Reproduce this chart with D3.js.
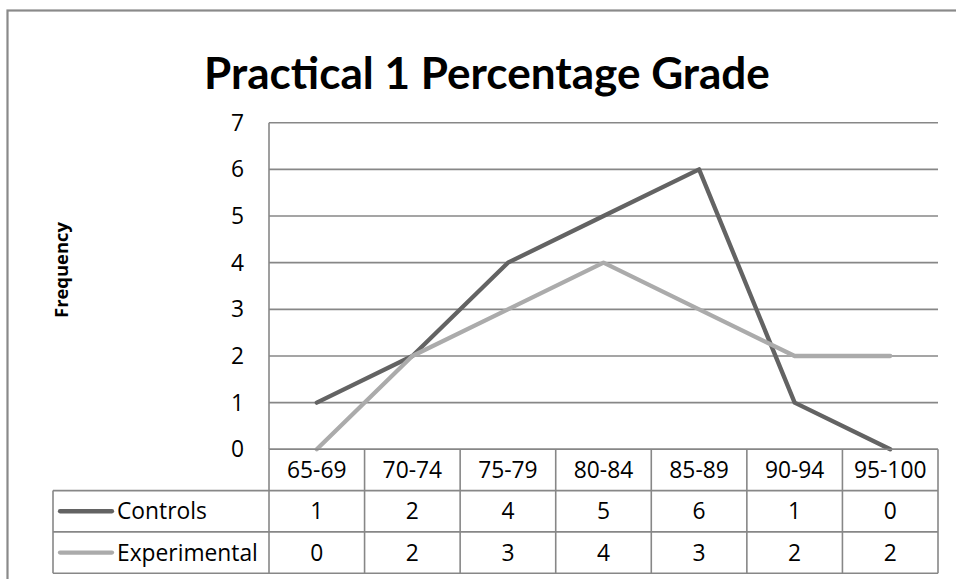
<!DOCTYPE html>
<html>
<head>
<meta charset="utf-8">
<script src="https://cdn.jsdelivr.net/npm/d3@7"></script>
<style>
  body { margin: 0; background: #fff; }
  svg text { font-family: "Open Sans", Lato, sans-serif; fill: #000; }
</style>
</head>
<body>
<svg id="chart"></svg>
<script>
// data
const categories = ['65-69', '70-74', '75-79', '80-84', '85-89', '90-94', '95-100'];
const controls = [1, 2, 4, 5, 6, 1, 0];
const experimental = [0, 2, 3, 4, 3, 2, 2];
const yTicks = [0, 1, 2, 3, 4, 5, 6, 7];

const series = [
    { name: 'Controls', values: controls, color: '#636363' },
    { name: 'Experimental', values: experimental, color: '#ababab' },
];

const width = 956, height = 579;
const plot = { left: 269, right: 938, top: 122.7, bottom: 449.3 };
const rowH = 41.3;
const tableLeft = 53;
const gridColor = '#878787';

const svg = d3.select('#chart').attr('width', width).attr('height', height);

// Outer chart frame (runs off the right and bottom edge)
svg.append('rect')
    .attr('x', 7.5).attr('y', 10.5)
    .attr('width', 1000).attr('height', 700)
    .attr('fill', '#fff')
    .attr('stroke', '#8a8a8a')
    .attr('stroke-width', 2.2);

// Fit text to a target width (fonts differ from the original)
function fitText(sel, targetWidth) {
    const fs = parseFloat(sel.attr('font-size'));
    const w = sel.node().getComputedTextLength();
    const size = w > 0 ? fs * targetWidth / w : fs;
    sel.attr('font-size', size);
    return size;
}

// Title
const title = svg.append('text')
    .attr('x', 487).attr('y', 89)
    .attr('text-anchor', 'middle')
    .style('font-family', 'Lato, sans-serif')
    .attr('font-size', 40)
    .attr('font-weight', 'bold')
    .text('Practical 1 Percentage Grade');
fitText(title, 566);

// work out a common label size from the widest legend entry
const probe = svg.append('text').attr('font-size', 20).text('Experimental');
const fs = Math.min(fitText(probe, 141), 23);
probe.remove();

// Scales
const x = d3.scaleBand().domain(categories).range([plot.left, plot.right]);
const y = d3.scaleLinear().domain([0, 7]).range([plot.bottom, plot.top]);

// Gridlines
svg.append('g')
    .selectAll('line')
    .data(yTicks)
    .join('line')
    .attr('x1', plot.left).attr('x2', plot.right)
    .attr('y1', d => y(d)).attr('y2', d => y(d))
    .attr('stroke', gridColor)
    .attr('stroke-width', 1.6);

// Vertical axis line
svg.append('line')
    .attr('x1', plot.left).attr('x2', plot.left)
    .attr('y1', plot.top).attr('y2', plot.bottom)
    .attr('stroke', gridColor)
    .attr('stroke-width', 1.6);

// Y tick labels
svg.append('g')
    .selectAll('text')
    .data(yTicks)
    .join('text')
    .attr('x', 244)
    .attr('y', d => y(d))
    .attr('dy', '0.35em')
    .attr('text-anchor', 'end')
    .attr('font-size', fs)
    .text(d => d);

// Y axis title
const ytitle = svg.append('text')
    .attr('transform', 'translate(68,270) rotate(-90)')
    .attr('text-anchor', 'middle')
    .attr('font-size', 18)
    .attr('font-weight', 'bold')
    .text('Frequency');
fitText(ytitle, 96);

// Lines
const line = d3.line()
    .x((d, i) => x(categories[i]) + x.bandwidth() / 2)
    .y(d => y(d));

svg.append('g')
    .selectAll('path')
    .data(series)
    .join('path')
    .attr('d', d => line(d.values))
    .attr('fill', 'none')
    .attr('stroke', d => d.color)
    .attr('stroke-width', 4.3)
    .attr('stroke-linejoin', 'round')
    .attr('stroke-linecap', 'round');

// Data table
const table = svg.append('g');
const rowY = i => plot.bottom + rowH * i;

// horizontal lines
table.append('line')
    .attr('x1', plot.left).attr('x2', plot.right)
    .attr('y1', rowY(0)).attr('y2', rowY(0))
    .attr('stroke', gridColor).attr('stroke-width', 1.6);
[1, 2, 3].forEach(i => {
    table.append('line')
        .attr('x1', tableLeft).attr('x2', plot.right)
        .attr('y1', rowY(i)).attr('y2', rowY(i))
        .attr('stroke', gridColor).attr('stroke-width', 1.6);
});

// vertical lines
const colEdges = categories.map(c => x(c)).concat([plot.right]);
table.selectAll('line.col')
    .data(colEdges)
    .join('line')
    .attr('class', 'col')
    .attr('x1', d => d).attr('x2', d => d)
    .attr('y1', rowY(0)).attr('y2', rowY(3))
    .attr('stroke', gridColor).attr('stroke-width', 1.6);
table.append('line')
    .attr('x1', tableLeft).attr('x2', tableLeft)
    .attr('y1', rowY(1)).attr('y2', rowY(3))
    .attr('stroke', gridColor).attr('stroke-width', 1.6);

// header labels
table.selectAll('text.cat')
    .data(categories)
    .join('text')
    .attr('class', 'cat')
    .attr('x', d => x(d) + x.bandwidth() / 2)
    .attr('y', rowY(0) + rowH / 2)
    .attr('dy', '0.35em')
    .attr('text-anchor', 'middle')
    .attr('font-size', fs)
    .text(d => d);

// series rows
series.forEach((s, si) => {
    const ry = rowY(si + 1) + rowH / 2;
    table.append('line')
        .attr('x1', 60).attr('x2', 112)
        .attr('y1', ry).attr('y2', ry)
        .attr('stroke', s.color)
        .attr('stroke-width', 4.3)
        .attr('stroke-linecap', 'round');
    table.append('text')
        .attr('x', 117).attr('y', ry)
        .attr('dy', '0.35em')
        .attr('font-size', fs)
        .text(s.name);
    table.selectAll(null)
        .data(s.values)
        .join('text')
        .attr('x', (d, i) => x(categories[i]) + x.bandwidth() / 2)
        .attr('y', ry)
        .attr('dy', '0.35em')
        .attr('text-anchor', 'middle')
        .attr('font-size', fs)
        .text(d => d);
});
</script>
</body>
</html>
